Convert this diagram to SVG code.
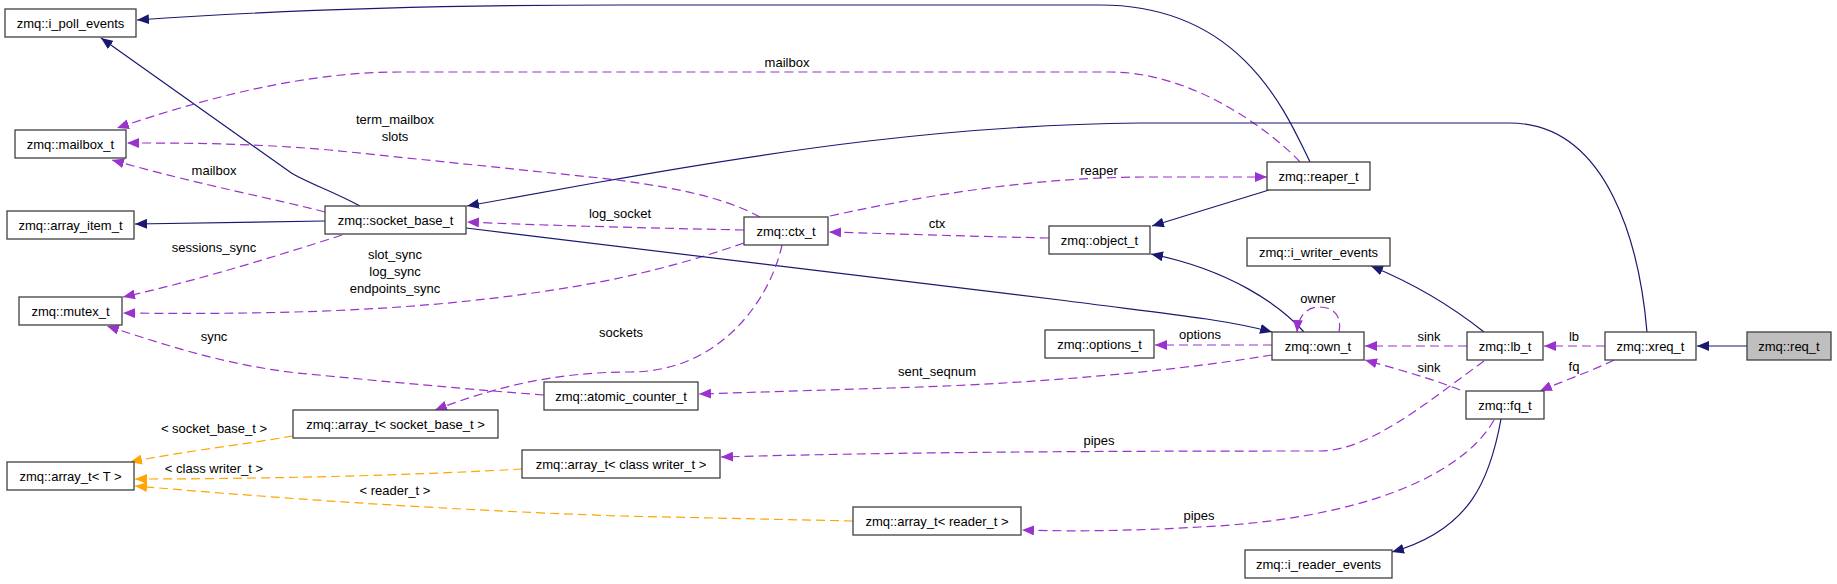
<svg xmlns="http://www.w3.org/2000/svg" width="1837" height="584" viewBox="0 0 1837 584">
<style>
.n rect{fill:#fff;stroke:#404040;stroke-width:1.3}
.n text,.l{font-family:"Liberation Sans",Arial,sans-serif;font-size:13px;fill:#000;text-anchor:middle}
.s{fill:none;stroke:#191970;stroke-width:1.2;marker-end:url(#as)}
.d{fill:none;stroke:#9a32cd;stroke-width:1.2;stroke-dasharray:9,5;marker-end:url(#ad)}
.o{fill:none;stroke:#ffa500;stroke-width:1.2;stroke-dasharray:9,5;marker-end:url(#ao)}
</style>
<defs>
<marker id="as" markerUnits="userSpaceOnUse" markerWidth="12" markerHeight="10" refX="12" refY="5" orient="auto"><path d="M0,0 L12,5 L0,10 z" fill="#191970"/></marker>
<marker id="ad" markerUnits="userSpaceOnUse" markerWidth="12" markerHeight="10" refX="12" refY="5" orient="auto"><path d="M0,0 L12,5 L0,10 z" fill="#9a32cd"/></marker>
<marker id="ao" markerUnits="userSpaceOnUse" markerWidth="12" markerHeight="10" refX="12" refY="5" orient="auto"><path d="M0,0 L12,5 L0,10 z" fill="#ffa500"/></marker>
</defs>
<rect width="1837" height="584" fill="#fff"/>
<g id="connectors">
<path class="s" d="M1310,162 C1285,110 1240,5 1100,5 L620,5 C400,5 250,12 137,20"/>
<path class="s" d="M360,206 C330,190 305,182 290,172 L101,38"/>
<path class="d" d="M1300,162 C1280,140 1200,72 1110,72 L400,72 C300,72 200,100 117,128"/>
<path class="d" d="M760,217 C720,195 660,185 600,178 L330,150 C250,143 180,143 127,143"/>
<path class="d" d="M325,212 C280,200 200,185 112,160"/>
<path class="s" d="M325,221 L135,224"/>
<path class="d" d="M342,235 C280,255 200,280 123,297"/>
<path class="d" d="M744,243 C700,258 660,270 600,282 C450,310 300,315 123,313"/>
<path class="d" d="M744,230 C650,228 560,226 467,222"/>
<path class="s" d="M466,228 L1060,300 C1150,312 1220,318 1272,332"/>
<path class="s" d="M1647,332 C1640,250 1610,123 1509,123 L1140,123 C950,125 780,150 600,182 L467,206"/>
<path class="s" d="M1269,190 L1152,226"/>
<path class="s" d="M1304,332 C1280,305 1230,270 1151,254"/>
<path class="d" d="M830,216 C950,190 1050,177 1150,177 L1267,177"/>
<path class="d" d="M1049,238 C960,236 900,234 829,232"/>
<path class="s" d="M1484,332 C1450,305 1410,282 1371,266"/>
<path class="d" d="M1339,332 C1342,318 1335,307 1320,307 C1305,307 1298,318 1297,332"/>
<path class="d" d="M1272,345 L1155,345"/>
<path class="d" d="M1272,355 C1150,375 1000,385 890,388 L699,394"/>
<path class="d" d="M1467,346 L1365,346"/>
<path class="d" d="M1460,390 C1430,378 1400,370 1365,360"/>
<path class="d" d="M1605,346 L1544,346"/>
<path class="d" d="M1614,360 C1590,372 1560,382 1540,391"/>
<path class="s" d="M1747,346 L1697,346"/>
<path class="s" d="M1501,419 C1490,480 1470,530 1392,552"/>
<path class="d" d="M1484,361 C1430,400 1370,451 1320,451 C1100,451 900,452 721,457"/>
<path class="d" d="M1494,420 C1460,480 1350,520 1200,527 C1150,530 1080,532 1022,530"/>
<path class="d" d="M782,245 C770,300 720,372 630,372 C560,372 500,385 435,410"/>
<path class="d" d="M544,395 C450,388 350,378 297,373 C230,365 180,350 107,326"/>
<path class="o" d="M293,436 C240,445 180,452 130,462"/>
<path class="o" d="M522,469 C400,476 250,479 135,479"/>
<path class="o" d="M853,521 L620,516 C450,510 300,500 135,486"/>
<text class="l" x="787" y="67">mailbox</text>
<text class="l" x="395" y="124">term_mailbox</text>
<text class="l" x="395" y="141">slots</text>
<text class="l" x="214" y="175">mailbox</text>
<text class="l" x="620" y="218">log_socket</text>
<text class="l" x="214" y="252">sessions_sync</text>
<text class="l" x="395" y="259">slot_sync</text>
<text class="l" x="395" y="276">log_sync</text>
<text class="l" x="395" y="293">endpoints_sync</text>
<text class="l" x="1099" y="175">reaper</text>
<text class="l" x="937" y="228">ctx</text>
<text class="l" x="1318" y="303">owner</text>
<text class="l" x="1200" y="339">options</text>
<text class="l" x="937" y="376">sent_seqnum</text>
<text class="l" x="1429" y="341">sink</text>
<text class="l" x="1429" y="372">sink</text>
<text class="l" x="1574" y="341">lb</text>
<text class="l" x="1574" y="371">fq</text>
<text class="l" x="1099" y="445">pipes</text>
<text class="l" x="1199" y="520">pipes</text>
<text class="l" x="621" y="337">sockets</text>
<text class="l" x="214" y="341">sync</text>
<text class="l" x="214" y="433">&lt; socket_base_t &gt;</text>
<text class="l" x="214" y="473">&lt; class writer_t &gt;</text>
<text class="l" x="395" y="495">&lt; reader_t &gt;</text>
</g>
<g id="i_poll_events" class="n"><rect x="5" y="9" width="131" height="28"/><text x="70.5" y="27.5">zmq::i_poll_events</text></g>
<g id="mailbox_t" class="n"><rect x="15" y="130" width="111" height="28"/><text x="70.5" y="148.5">zmq::mailbox_t</text></g>
<g id="array_item_t" class="n"><rect x="7" y="211" width="127" height="28"/><text x="70.5" y="229.5">zmq::array_item_t</text></g>
<g id="mutex_t" class="n"><rect x="19" y="297" width="103" height="28"/><text x="70.5" y="315.5">zmq::mutex_t</text></g>
<g id="array_t_T" class="n"><rect x="7" y="462" width="127" height="28"/><text x="70.5" y="480.5">zmq::array_t&lt; T &gt;</text></g>
<g id="socket_base_t" class="n"><rect x="325" y="206" width="141" height="28"/><text x="395.5" y="224.5">zmq::socket_base_t</text></g>
<g id="array_t_socket_base_t" class="n"><rect x="293" y="410" width="205" height="28"/><text x="395.5" y="428.5">zmq::array_t&lt; socket_base_t &gt;</text></g>
<g id="atomic_counter_t" class="n"><rect x="544" y="382" width="154" height="28"/><text x="621" y="400.5">zmq::atomic_counter_t</text></g>
<g id="array_t_writer_t" class="n"><rect x="522" y="450" width="198" height="28"/><text x="621" y="468.5">zmq::array_t&lt; class writer_t &gt;</text></g>
<g id="ctx_t" class="n"><rect x="744" y="217" width="84" height="28"/><text x="786" y="235.5">zmq::ctx_t</text></g>
<g id="array_t_reader_t" class="n"><rect x="853" y="507" width="168" height="28"/><text x="937" y="525.5">zmq::array_t&lt; reader_t &gt;</text></g>
<g id="object_t" class="n"><rect x="1049" y="226" width="101" height="28"/><text x="1099.5" y="244.5">zmq::object_t</text></g>
<g id="options_t" class="n"><rect x="1045" y="330" width="109" height="28"/><text x="1099.5" y="348.5">zmq::options_t</text></g>
<g id="reaper_t" class="n"><rect x="1267" y="162" width="103" height="28"/><text x="1318.5" y="180.5">zmq::reaper_t</text></g>
<g id="i_writer_events" class="n"><rect x="1247" y="238" width="143" height="28"/><text x="1318.5" y="256.5">zmq::i_writer_events</text></g>
<g id="own_t" class="n"><rect x="1272" y="332" width="92" height="28"/><text x="1318" y="350.5">zmq::own_t</text></g>
<g id="i_reader_events" class="n"><rect x="1245" y="550" width="147" height="28"/><text x="1318.5" y="568.5">zmq::i_reader_events</text></g>
<g id="lb_t" class="n"><rect x="1467" y="332" width="76" height="28"/><text x="1505" y="350.5">zmq::lb_t</text></g>
<g id="fq_t" class="n"><rect x="1466" y="391" width="78" height="28"/><text x="1505" y="409.5">zmq::fq_t</text></g>
<g id="xreq_t" class="n"><rect x="1605" y="332" width="91" height="28"/><text x="1650.5" y="350.5">zmq::xreq_t</text></g>
<g id="req_t" class="n"><rect x="1747" y="332" width="84" height="28" style="fill:#bfbfbf"/><text x="1789" y="350.5">zmq::req_t</text></g>
</svg>
